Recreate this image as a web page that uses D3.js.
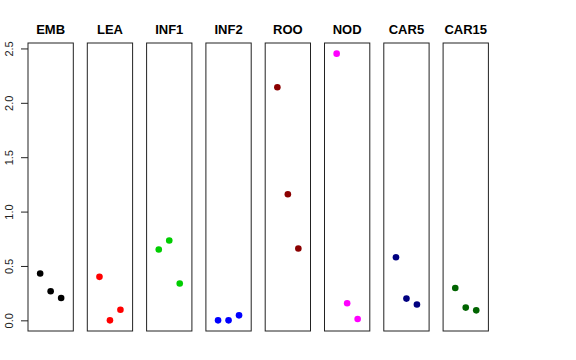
<!DOCTYPE html>
<html><head><meta charset="utf-8">
<script src="https://cdn.jsdelivr.net/npm/d3@7"></script>
<style>body{margin:0;background:#fff}svg{display:block}</style>
</head><body>
<svg id="c" width="576" height="360"></svg>
<script>
const categories = ["EMB","LEA","INF1","INF2","ROO","NOD","CAR5","CAR15"];
const colors = ["#000000","#FF0000","#00CD00","#0000FF","#8B0000","#FF00FF","#000080","#006400"];
const values = [
  [0.43, 0.267, 0.205],
  [0.40, 0.0, 0.098],
  [0.651, 0.734, 0.338],
  [0.0, 0.0, 0.046],
  [2.143, 1.16, 0.66],
  [2.452, 0.157, 0.012],
  [0.58, 0.20, 0.145],
  [0.297, 0.117, 0.092]
];
const yTicks = [0, 0.5, 1.0, 1.5, 2.0, 2.5];

const svg = d3.select("#c");
const panel = d3.scaleBand().domain(categories).range([28, 488.4]).paddingInner(0.236).paddingOuter(0);
const bw = panel.bandwidth();
const allv = values.flat();
const lo = d3.min(allv), hi = d3.max(allv), r = hi - lo;
const y = d3.scaleLinear().domain([lo - 0.04*r, hi + 0.04*r]).range([331, 43]);
const x = d3.scaleLinear().domain([0 - 0.16, 4 + 0.16]).range([0, bw]);

categories.forEach((cat, i) => {
  const g = svg.append("g").attr("transform", `translate(${panel(cat)},0)`);
  g.append("rect").attr("x", 0).attr("y", 43).attr("width", bw).attr("height", 288)
    .attr("fill", "none").attr("stroke", "#222").attr("stroke-width", 1);
  g.append("text").attr("x", bw/2).attr("y", 34).attr("text-anchor", "middle")
    .attr("font-family", "Liberation Sans, Arial, sans-serif").attr("font-weight", "bold")
    .attr("font-size", 13).text(cat);
  g.selectAll("circle").data(values[i]).join("circle")
    .attr("cx", (d, j) => x(j + 1)).attr("cy", d => y(d)).attr("r", 3.3)
    .attr("fill", colors[i]);
});

const axis = d3.axisLeft(y).tickValues(yTicks).tickFormat(d3.format(".1f")).tickSize(7).tickPadding(4);
const ag = svg.append("g").attr("transform", `translate(${panel(categories[0])},0)`).call(axis);
ag.select(".domain").remove();
ag.selectAll(".tick line").attr("stroke", "#222");
ag.selectAll(".tick text")
  .attr("font-family", "Liberation Sans, Arial, sans-serif").attr("font-size", 11).attr("fill", "#222")
  .attr("transform", "rotate(-90)").attr("x", 0).attr("y", -15).attr("dy", 0)
  .attr("text-anchor", "middle");
</script>
</body></html>
